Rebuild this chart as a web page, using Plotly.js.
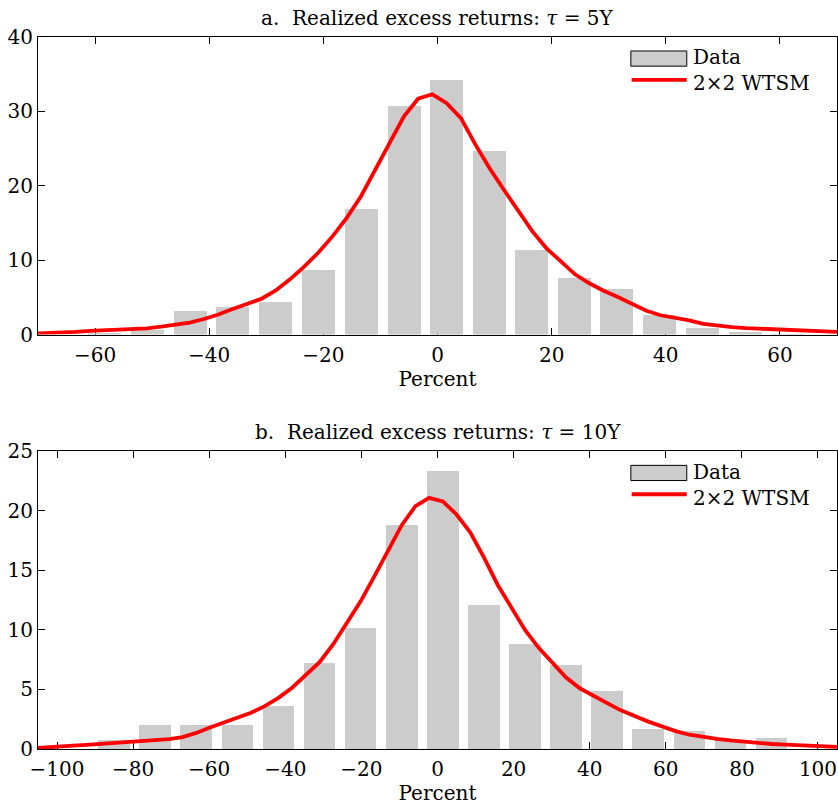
<!DOCTYPE html>
<html>
<head>
<meta charset="utf-8">
<script src="https://cdn.plot.ly/plotly-3.0.1.min.js"></script>
<style>html,body{margin:0;padding:0;background:#fff;}#chart{width:838px;height:808px;}</style>
</head>
<body>
<div id="chart"></div>
<script>
// ---------- Panel a: tau = 5Y ----------
const barCentersA = [-65.8,-58.3,-50.8,-43.3,-35.9,-28.4,-20.9,-13.3,-5.8,1.6,9.1,16.5,24.0,31.4,38.9,46.4,53.9,61.4];
const barHeightsA = [0,0.2,0.65,3.15,3.65,4.4,8.7,16.95,30.7,34.2,24.7,11.4,7.65,6.15,2.65,0.95,0.4,0.15];
const curveXA = [-70.9,-68.4,-65.9,-63.4,-60.9,-58.4,-55.9,-53.4,-50.9,-48.4,-45.9,-43.4,-40.9,-38.4,-35.9,-33.4,-30.9,-28.4,-25.9,-23.4,-20.9,-18.4,-15.9,-13.4,-10.9,-8.4,-5.9,-3.4,-0.9,1.6,4.1,6.6,9.1,11.6,14.1,16.6,19.1,21.6,24.1,26.6,29.1,31.6,34.1,36.6,39.1,41.6,44.1,46.6,49.1,51.6,54.1,56.6,59.1,61.6,64.1,66.6,69.1,71.6];
const curveYA = [0.15,0.2,0.27,0.36,0.5,0.6,0.65,0.72,0.85,1.07,1.3,1.6,2.1,2.7,3.45,4.1,4.8,5.9,7.4,9.1,11.0,13.2,15.7,18.6,22.2,25.9,29.3,31.7,32.3,31.1,29.1,25.6,22.4,19.5,16.7,13.9,11.6,9.8,8.1,6.9,5.9,5.05,4.1,3.2,2.6,2.3,1.9,1.45,1.2,1.0,0.87,0.8,0.7,0.6,0.5,0.42,0.36,0.33];

// ---------- Panel b: tau = 10Y ----------
const barCentersB = [-85.0,-74.2,-63.4,-52.6,-41.8,-31.0,-20.2,-9.4,1.4,12.2,23.0,33.8,44.6,55.4,66.2,77.0,87.8];
const barHeightsB = [0.78,2.04,2.04,2.04,3.58,7.21,10.18,18.85,23.35,12.1,8.78,7.05,4.84,1.68,1.51,0.78,0.95];
const curveXB = [-106.6,-103.0,-99.4,-95.8,-92.2,-88.6,-85.0,-81.4,-77.8,-74.2,-70.6,-67.0,-63.4,-59.8,-56.2,-52.6,-49.0,-45.4,-41.8,-38.2,-34.6,-31.0,-27.4,-23.8,-20.2,-16.6,-13.0,-9.4,-5.8,-2.2,1.4,5.0,8.6,12.2,15.8,19.4,23.0,26.6,30.2,33.8,37.4,41.0,44.6,48.2,51.8,55.4,59.0,62.6,66.2,69.8,73.4,77.0,80.6,84.2,87.8,91.4,95.0,98.6,102.2,105.8,109.4];
const curveYB = [0.05,0.15,0.22,0.28,0.35,0.42,0.5,0.56,0.63,0.72,0.82,1.0,1.35,1.8,2.2,2.6,3.05,3.6,4.3,5.15,6.2,7.3,8.8,10.6,12.4,14.5,16.7,18.8,20.4,21.1,20.8,19.7,18.2,16.1,13.8,11.9,10.0,8.5,7.3,6.0,5.1,4.45,3.85,3.25,2.75,2.3,1.9,1.5,1.2,1.0,0.85,0.72,0.6,0.5,0.42,0.36,0.32,0.28,0.22,0.17,0.13];

const titles = ["a.  Realized excess returns: <i>τ</i> = 5Y", "b.  Realized excess returns: <i>τ</i> = 10Y"];
const legendNames = ["Data", "2×2 WTSM"];
const xTitle = "Percent";

const FONT = "DejaVu Serif, Liberation Serif, serif";
const FS = 20;
const BAR = "#cccccc";
const RED = "#ff0000";
const LW = 3.8;

const traces = [
  {type:"bar", x:barCentersA, y:barHeightsA, width:5.75, marker:{color:BAR, line:{width:0}}, xaxis:"x", yaxis:"y", name:legendNames[0], showlegend:false},
  {type:"scatter", mode:"lines", x:curveXA, y:curveYA, line:{color:RED, width:LW}, xaxis:"x", yaxis:"y", name:legendNames[1], showlegend:false},
  {type:"bar", x:barCentersB, y:barHeightsB, width:8.3, marker:{color:BAR, line:{width:0}}, xaxis:"x2", yaxis:"y2", name:legendNames[0], showlegend:false},
  {type:"scatter", mode:"lines", x:curveXB, y:curveYB, line:{color:RED, width:LW}, xaxis:"x2", yaxis:"y2", name:legendNames[1], showlegend:false}
];

function xa(range, anchor){
  return {range:range, dtick:20, tick0:0, anchor:anchor, showgrid:false, zeroline:false,
    showline:true, mirror:"ticks", linecolor:"#000", linewidth:1, ticks:"inside", ticklen:7, tickcolor:"#000",
    tickfont:{family:FONT, size:FS, color:"#000"}, layer:"below traces", ticklabelstandoff:2,
    title:{text:xTitle, font:{family:FONT, size:FS, color:"#000"}, standoff:2}};
}
function ya(range, dtick, domain, anchor){
  return {range:range, dtick:dtick, tick0:0, domain:domain, anchor:anchor, showgrid:false, zeroline:false,
    showline:true, mirror:"ticks", linecolor:"#000", linewidth:1, ticks:"inside", ticklen:7, tickcolor:"#000",
    tickfont:{family:FONT, size:FS, color:"#000"}, layer:"below traces", ticklabelstandoff:0};
}

const shapes = [];
const annotations = [];
[["x","y"],["x2","y2"]].forEach(function(p, i){
  const xr = p[0]+" domain", yr = p[1]+" domain";
  shapes.push({type:"rect", xref:xr, yref:yr, x0:0.742, x1:0.812, y0:0.902, y1:0.953, fillcolor:BAR, line:{color:"#000", width:1}});
  shapes.push({type:"line", xref:xr, yref:yr, x0:0.743, x1:0.812, y0:0.856, y1:0.856, line:{color:RED, width:LW}});
  annotations.push({xref:xr, yref:yr, x:0.8185, y:0.888, xanchor:"left", yanchor:"bottom", showarrow:false, borderpad:0, text:legendNames[0], font:{family:FONT, size:FS, color:"#000"}});
  annotations.push({xref:xr, yref:yr, x:0.8185, y:0.888, xanchor:"left", yanchor:"top", showarrow:false, borderpad:0, text:legendNames[1], font:{family:FONT, size:FS, color:"#000"}});
  annotations.push({xref:xr, yref:yr, x:0.5, y:1, xanchor:"center", yanchor:"bottom", yshift:5, showarrow:false, text:titles[i], font:{family:FONT, size:FS, color:"#000"}});
});

const layout = {
  width:838, height:808, margin:{l:38, r:1, t:37, b:59},
  paper_bgcolor:"#fff", plot_bgcolor:"#fff", showlegend:false, bargap:0,
  font:{family:FONT, size:FS, color:"#000"},
  xaxis: xa([-70,70], "y"),
  yaxis: ya([0,40], 10, [0.582,1], "x"),
  xaxis2: xa([-105,105], "y2"),
  yaxis2: ya([0,25], 5, [0,0.418], "x2"),
  shapes:shapes, annotations:annotations
};

Plotly.newPlot("chart", traces, layout, {displayModeBar:false, staticPlot:true});
</script>
</body>
</html>
